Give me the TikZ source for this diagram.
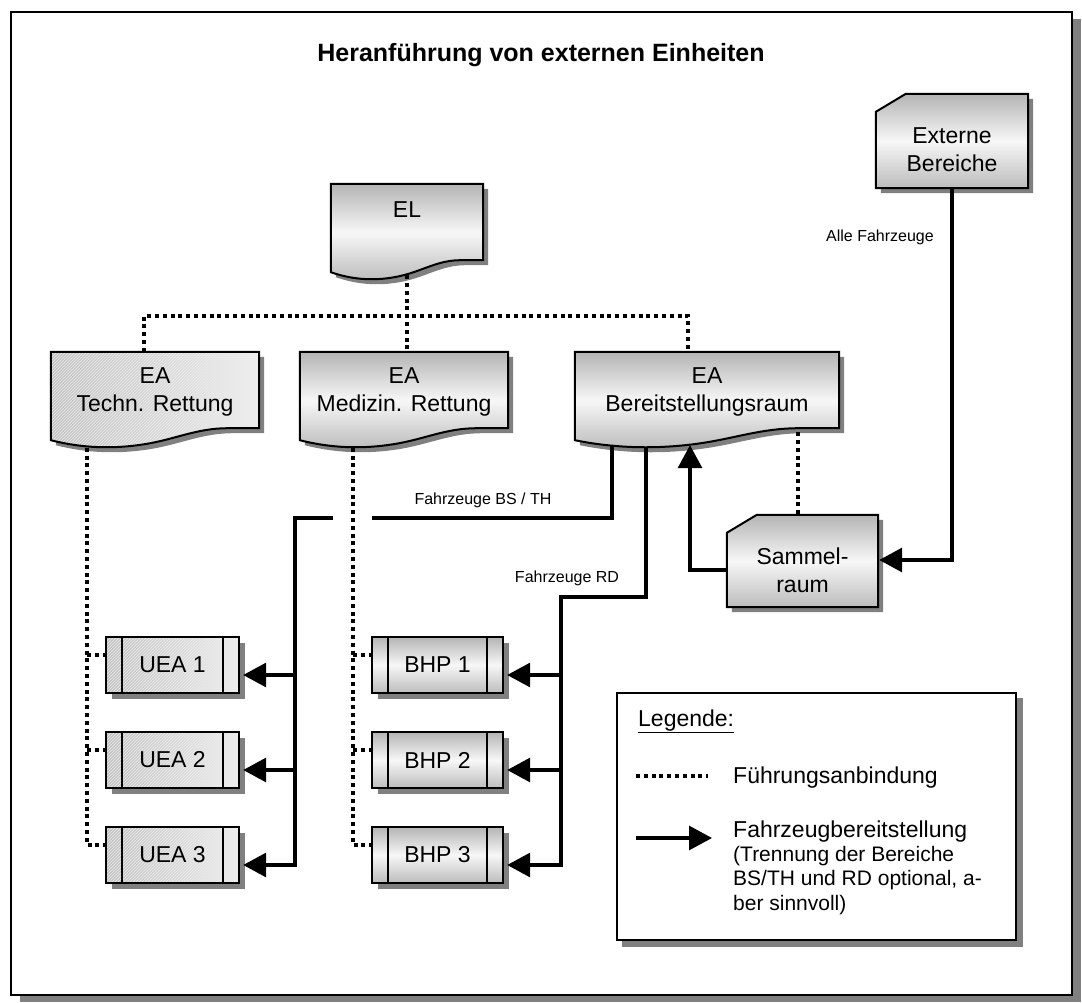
\documentclass[tikz,border=0pt]{standalone}
\usepackage{fontspec}
\setmainfont{Liberation Sans}
\usetikzlibrary{arrows.meta,patterns,calc}
\pgfdeclarelayer{shadowlayer}
\pgfdeclarelayer{connlayer}
\pgfdeclarelayer{shapelayer}
\pgfsetlayers{shadowlayer,connlayer,shapelayer,main}

\definecolor{shadowgray}{HTML}{808080}
\definecolor{shtop}{HTML}{B4B4B4}
\definecolor{shmid}{HTML}{F7F7F7}
\definecolor{shbot}{HTML}{BCBCBC}
\definecolor{hatchL}{HTML}{C2C2C2}
\definecolor{hatchR}{HTML}{EEEEEE}

% document shape around node #1; #2 style; #3 offset; #4 extension of wave below node
\newcommand\docshape[4]{%
  \path[#2] let \p1=(#1.north west), \p2=(#1.south east), \n1={\x2-\x1} in
   (\x1+#3,\y1-#3) -- (\x2+#3,\y1-#3) -- (\x2+#3,\y2-#4+12-#3)
   -- (\x1+0.85*\n1+#3,\y2-#4+12-#3)
   .. controls (\x1+0.7*\n1+#3,\y2-#4+12-#3) and (\x1+0.6*\n1+#3,\y2-#4+1-#3) .. (\x1+0.45*\n1+#3,\y2-#4-4-#3)
   .. controls (\x1+0.3*\n1+#3,\y2-#4-9-#3) and (\x1+0.15*\n1+#3,\y2-#4-8-#3) .. (\x1+#3,\y2-#4-#3) -- cycle;}
% card shape (cut upper left corner) above node #1
\newcommand\cardshape[3]{%
  \path[#2] let \p1=(#1.north west), \p2=(#1.south east) in
   (\x1+#3,\y1-#3) -- (\x1+30+#3,\y1+18-#3) -- (\x2+#3,\y1+18-#3) -- (\x2+#3,\y2-#3) -- (\x1+#3,\y2-#3) -- cycle;}
% bar box
\newcommand\barshape[3]{%
  \path[#2] ([shift={(#3pt,-#3pt)}]#1.north west) rectangle ([shift={(#3pt,-#3pt)}]#1.south east);
  \ifnum#3=0
  \draw[line width=2pt] ([xshift=16pt]#1.north west) -- ([xshift=16pt]#1.south west);
  \draw[line width=2pt] ([xshift=-16pt]#1.north east) -- ([xshift=-16pt]#1.south east);
  \fi}

\begin{document}
\begin{tikzpicture}[x=1pt,y=-1pt,
  txt/.style={font=\fontsize{23}{28}\selectfont, align=center, inner sep=0pt, draw=none},
  small/.style={font=\fontsize{16}{19}\selectfont, inner sep=0pt},
  legtxt/.style={font=\fontsize{23}{28}\selectfont, inner sep=0pt},
  grad/.style={draw=black, line width=2pt, top color=shtop, bottom color=shbot, middle color=shmid},
  hatch/.style={draw=black, line width=2pt, pattern=north east lines, pattern color=white!85!gray,
     preaction={left color=hatchL, right color=hatchR}},
  sh/.style={fill=shadowgray},
  lead/.style={line width=3.6pt, dash pattern=on 4pt off 3.8pt},
  veh/.style={line width=3.2pt},
  arr/.style={-{Triangle[length=23pt,width=24pt]}}]
\useasboundingbox (0,0) rectangle (1082,1003);

% ---------- nodes ----------
\node[txt, font={\fontsize{25}{29}\selectfont\bfseries}] (title) at (541,55) {Heranführung von externen Einheiten};
\node[txt, minimum width=152pt, minimum height=52pt] (el) at (407,210) {EL};
\node[txt, minimum width=208pt, minimum height=80pt] (techn) at (155,392) {EA\\Techn. Rettung};
\node[txt, minimum width=208pt, minimum height=80pt] (med) at (404,392) {EA\\Medizin. Rettung};
\node[txt, minimum width=264pt, minimum height=80pt] (bereit) at (707,392) {EA\\Bereitstellungsraum};
\node[txt, minimum width=152pt, minimum height=76pt] (ext) at (952,150) {Externe\\Bereiche};
\node[txt, minimum width=151pt, minimum height=74pt] (sammel) at (802.5,570) {Sammel-\\raum};
\foreach \i/\yy in {1/665,2/760,3/855}{
  \node[txt, minimum width=133pt, minimum height=56pt] (uea\i) at (172.5,\yy) {UEA \i};
  \node[txt, minimum width=131pt, minimum height=56pt] (bhp\i) at (437.5,\yy) {BHP \i};
}
\node[small] (lbs) at (483,500) {Fahrzeuge BS / TH};
\node[small] (lrd) at (567,578) {Fahrzeuge RD};
\node[small] (lall) at (880,237) {Alle Fahrzeuge};

% legend
\node[draw, fill=white, line width=2pt, minimum width=399pt, minimum height=247pt, inner sep=0pt] (legend) at (816.5,816.5) {};
\node[legtxt, anchor=base west] (lgtitle) at (638,726) {\underline{Legende:}};
\coordinate (lgd1) at (636,776);
\coordinate (lgd2) at (708,776);
\node[legtxt, anchor=base west] (lgft) at (733,783) {Führungsanbindung};
\coordinate (lga1) at (636,838);
\coordinate (lga2) at (712,838);
\node[legtxt, anchor=base west] (lgfz) at (733,837) {Fahrzeugbereitstellung};
\node[anchor=north west, inner sep=0pt, align=left, font=\fontsize{21}{24.5}\selectfont] (lgsub) at (733,846)
  {(Trennung der Bereiche\\BS/TH und RD optional, a-\\ber sinnvoll)};
\draw[lead] (lgd1) -- (lgd2);
\draw[veh, arr] (lga1) -- (lga2);

% ---------- shadows ----------
\begin{pgfonlayer}{shadowlayer}
  \fill[shadowgray] (20,19) rectangle (1081,1002);
  \draw[line width=2pt, fill=white] (11,12) rectangle (1072,995);
  \fill[shadowgray] ([shift={(6pt,-6pt)}]legend.north west) rectangle ([shift={(6pt,-6pt)}]legend.south east);
  \docshape{el}{sh}{5}{36}
  \docshape{techn}{sh}{5}{8}
  \docshape{med}{sh}{5}{8}
  \docshape{bereit}{sh}{5}{8}
  \cardshape{ext}{sh}{5}
  \cardshape{sammel}{sh}{5}
  \foreach \i in {1,2,3}{
    \barshape{uea\i}{sh}{6}
    \barshape{bhp\i}{sh}{6}
  }
\end{pgfonlayer}

% ---------- connectors ----------
\begin{pgfonlayer}{connlayer}
  \coordinate (elj) at (407,316);
  \coordinate (tdot) at ([xshift=-68pt]techn.south);
  \coordinate (mdot) at ([xshift=-51pt]med.south);
  \draw[lead] (el.south) -- (med.north -| el.south);
  \draw[lead] ([xshift=-11pt]techn.north) |- (elj) -| ([xshift=-19pt]bereit.north);
  \draw[lead] (tdot) |- ([yshift=10pt]uea3.west);
  \draw[lead] (mdot) |- ([yshift=10pt]bhp3.west);
  \foreach \i in {1,2}{
    \draw[lead] ([yshift=10pt]uea\i.west -| tdot) -- ([yshift=10pt]uea\i.west);
    \draw[lead] ([yshift=10pt]bhp\i.west -| mdot) -- ([yshift=10pt]bhp\i.west);
  }
  \draw[lead] ([xshift=91pt]bereit.south) -- ([xshift=91pt]bereit.south |- sammel.north);

  \coordinate (bsR) at (372,518);
  \coordinate (bsL) at (333,518);
  \coordinate (bsturn) at (295,518);
  \coordinate (rdturn) at (561,597);
  \draw[veh] ([xshift=-95pt]bereit.south) |- (bsR);
  \draw[veh, arr] (bsL) -- (bsturn) |- ([yshift=-10pt,xshift=4pt]uea3.east);
  \draw[veh, arr] ([xshift=-61pt]bereit.south) |- (rdturn) |- ([yshift=-10pt,xshift=4pt]bhp3.east);
  \foreach \i in {1,2}{
    \draw[veh, arr] ([yshift=-10pt]uea\i.east -| bsturn) -- ([yshift=-10pt,xshift=4pt]uea\i.east);
    \draw[veh, arr] ([yshift=-10pt]bhp\i.east -| rdturn) -- ([yshift=-10pt,xshift=4pt]bhp\i.east);
  }
  \draw[veh, arr] (sammel.west) -| ([xshift=-17pt,yshift=-13pt]bereit.south);
  \draw[veh, arr] (ext.south) |- ([yshift=10pt,xshift=1pt]sammel.east);
\end{pgfonlayer}

% ---------- shapes ----------
\begin{pgfonlayer}{shapelayer}
  \docshape{el}{grad}{0}{36}
  \docshape{techn}{hatch}{0}{8}
  \docshape{med}{grad}{0}{8}
  \docshape{bereit}{grad}{0}{8}
  \cardshape{ext}{grad}{0}
  \cardshape{sammel}{grad}{0}
  \foreach \i in {1,2,3}{
    \barshape{uea\i}{hatch}{0}
    \barshape{bhp\i}{grad}{0}
  }
\end{pgfonlayer}
\end{tikzpicture}
\end{document}
